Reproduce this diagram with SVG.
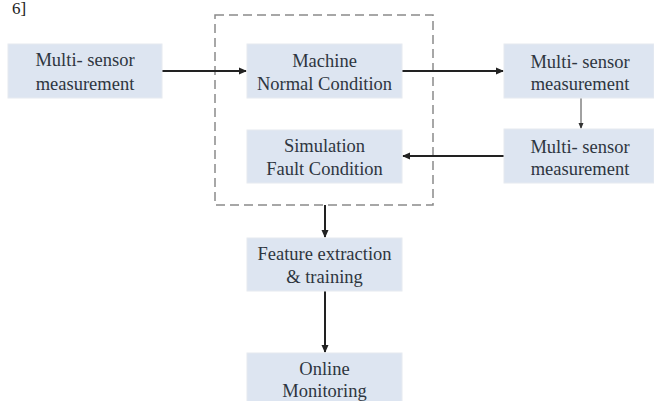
<svg xmlns="http://www.w3.org/2000/svg" width="654" height="401" viewBox="0 0 654 401">
<style>
.box{fill:#dde5f1;stroke:#e6eaf0;stroke-width:1}
.t{font-family:"Liberation Serif",serif;font-size:18.5px;fill:#2e3540;text-anchor:middle}
.c{fill:none;stroke:#222;stroke-width:2}
.thin{fill:none;stroke:#444;stroke-width:1}
</style>
<defs>
<marker id="ah" markerWidth="8" markerHeight="8" refX="7" refY="4" orient="auto" markerUnits="userSpaceOnUse">
<path d="M0,0.5 L8,4 L0,7.5 Z" fill="#222"/>
</marker>
<marker id="ahs" markerWidth="6" markerHeight="6" refX="5" refY="3" orient="auto" markerUnits="userSpaceOnUse">
<path d="M0,0.5 L6,3 L0,5.5 Z" fill="#333"/>
</marker>
</defs>
<rect width="654" height="401" fill="#fff"/>
<text x="12" y="14" style="font-family:'Liberation Serif',serif;font-size:17px;fill:#222">6]</text>
<rect id="dashed-group" x="215" y="15" width="218" height="190" fill="none" stroke="#8a8a8a" stroke-width="1.5" stroke-dasharray="9,5"/>
<g id="connectors">
<line class="c" x1="162" y1="71" x2="246" y2="71" marker-end="url(#ah)"/>
<line class="c" x1="402" y1="71" x2="503" y2="71" marker-end="url(#ah)"/>
<line class="thin" x1="581" y1="98" x2="581" y2="128" marker-end="url(#ahs)"/>
<line class="c" x1="504" y1="156" x2="403" y2="156" marker-end="url(#ah)"/>
<line class="c" x1="325" y1="205" x2="325" y2="237" marker-end="url(#ah)"/>
<line class="c" x1="325" y1="291" x2="325" y2="352" marker-end="url(#ah)"/>
</g>
<g id="n1"><rect class="box" x="8" y="44" width="154" height="54"/><text class="t" x="85" y="66">Multi- sensor</text><text class="t" x="85" y="90">measurement</text></g>
<g id="n2"><rect class="box" x="247" y="44" width="155" height="54"/><text class="t" x="324.5" y="67">Machine</text><text class="t" x="324.5" y="90">Normal Condition</text></g>
<g id="n3"><rect class="box" x="247" y="130" width="155" height="53"/><text class="t" x="324.5" y="152">Simulation</text><text class="t" x="324.5" y="175">Fault Condition</text></g>
<g id="n4"><rect class="box" x="504" y="44" width="150" height="54"/><text class="t" x="580" y="68">Multi- sensor</text><text class="t" x="580" y="90">measurement</text></g>
<g id="n5"><rect class="box" x="504" y="129" width="150" height="54"/><text class="t" x="580" y="153">Multi- sensor</text><text class="t" x="580" y="175">measurement</text></g>
<g id="n6"><rect class="box" x="247" y="238" width="155" height="53"/><text class="t" x="324.5" y="260">Feature extraction</text><text class="t" x="324.5" y="283">&amp; training</text></g>
<g id="n7"><rect class="box" x="247" y="353" width="155" height="60"/><text class="t" x="324.5" y="375">Online</text><text class="t" x="324.5" y="397">Monitoring</text></g>
</svg>
